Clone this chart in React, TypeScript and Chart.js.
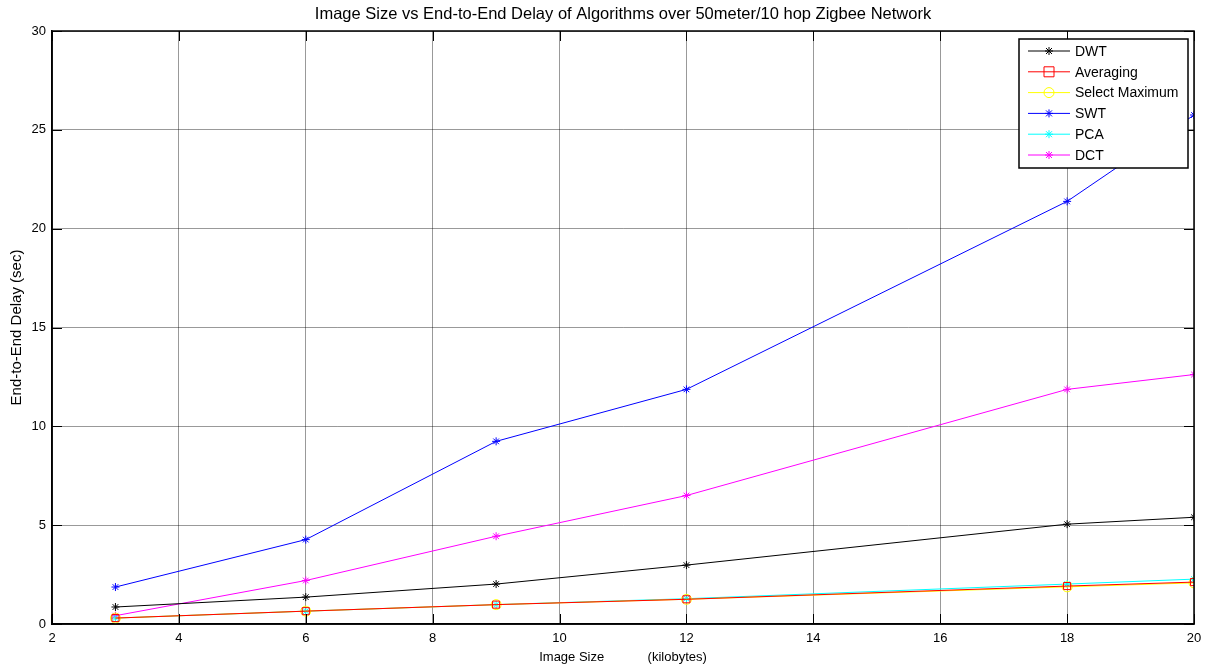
import React, { useEffect, useRef } from "react";
import { Chart, registerables } from "chart.js";

Chart.register(...registerables);

const imageSizes = [3, 6, 9, 12, 18, 20];
const dwt = [0.86, 1.36, 2.02, 2.98, 5.05, 5.4];
const averaging = [0.3, 0.65, 0.98, 1.25, 1.92, 2.12];
const selectMaximum = [0.3, 0.65, 0.98, 1.25, 1.88, 2.08];
const swt = [1.87, 4.27, 9.24, 11.87, 21.38, 25.75];
const pca = [0.3, 0.65, 0.98, 1.28, 2.02, 2.27];
const dct = [0.42, 2.2, 4.44, 6.5, 11.87, 12.62];
const xTicks = [2, 4, 6, 8, 10, 12, 14, 16, 18, 20];
const yTicks = [0, 5, 10, 15, 20, 25, 30];

const FONT = "'Liberation Sans', Arial, sans-serif";

const seriesDefs = [
  { label: "DWT", data: dwt, color: "#000000", style: "star" },
  { label: "Averaging", data: averaging, color: "#ff0000", style: "rect" },
  { label: "Select Maximum", data: selectMaximum, color: "#ffff00", style: "circle" },
  { label: "SWT", data: swt, color: "#0000ff", style: "star" },
  { label: "PCA", data: pca, color: "#00ffff", style: "star" },
  { label: "DCT", data: dct, color: "#ff00ff", style: "star" },
];

function drawMarker(ctx: CanvasRenderingContext2D, style: string, x: number, y: number, color: string) {
  ctx.save();
  ctx.strokeStyle = color;
  ctx.lineWidth = 1;
  ctx.beginPath();
  if (style === "star") {
    const r = 4;
    ctx.moveTo(x - r, y); ctx.lineTo(x + r, y);
    ctx.moveTo(x, y - r); ctx.lineTo(x, y + r);
    const d = r * 0.75;
    ctx.moveTo(x - d, y - d); ctx.lineTo(x + d, y + d);
    ctx.moveTo(x - d, y + d); ctx.lineTo(x + d, y - d);
  } else if (style === "rect") {
    ctx.rect(x - 5, y - 5, 10, 10);
  } else {
    ctx.arc(x, y, 5, 0, Math.PI * 2);
  }
  ctx.stroke();
  ctx.restore();
}

const framePlugin = {
  id: "framePlugin",
  afterDatasetsDraw(chart: any) {
    const { ctx, chartArea } = chart;
    const { left, right, top, bottom } = chartArea;
    ctx.save();
    ctx.strokeStyle = "#000";
    ctx.lineWidth = 1;
    const xs = chart.scales.x;
    const ys = chart.scales.y;
    ctx.beginPath();
    xTicks.forEach((t) => {
      const px = Math.round(xs.getPixelForValue(t)) + 0.5;
      ctx.moveTo(px, bottom); ctx.lineTo(px, bottom - 10);
      ctx.moveTo(px, top); ctx.lineTo(px, top + 10);
    });
    yTicks.forEach((t) => {
      const py = Math.round(ys.getPixelForValue(t)) + 0.5;
      ctx.moveTo(left, py); ctx.lineTo(left + 10, py);
      ctx.moveTo(right, py); ctx.lineTo(right - 10, py);
    });
    ctx.stroke();
    ctx.lineWidth = 1.5;
    ctx.strokeRect(left, top, right - left, bottom - top);
    ctx.fillStyle = "#000";
    ctx.font = `16.5px ${FONT}`;
    ctx.textAlign = "center";
    ctx.textBaseline = "middle";
    ctx.fillText(
      "Image Size vs End-to-End Delay of Algorithms over 50meter/10 hop Zigbee Network",
      (left + right) / 2,
      14
    );
    const lx = 1019, ly = 39, lw = 169, lh = 129;
    ctx.fillStyle = "#fff";
    ctx.fillRect(lx, ly, lw, lh);
    ctx.strokeStyle = "#000";
    ctx.lineWidth = 1.5;
    ctx.strokeRect(lx, ly, lw, lh);
    ctx.font = `14px ${FONT}`;
    ctx.textAlign = "left";
    seriesDefs.forEach((s, i) => {
      const y = 51 + i * 20.8;
      ctx.strokeStyle = s.color;
      ctx.lineWidth = 1;
      ctx.beginPath();
      ctx.moveTo(1028, y); ctx.lineTo(1070, y);
      ctx.stroke();
      drawMarker(ctx, s.style, 1049, y, s.color);
      ctx.fillStyle = "#000";
      ctx.fillText(s.label, 1075, y + 1);
    });
    ctx.restore();
  },
};

export default function App() {
  const ref = useRef<HTMLCanvasElement>(null);
  useEffect(() => {
    document.body.style.margin = "0";
    const canvas = ref.current!;
    const chart = new Chart(canvas, {
      type: "line",
      data: {
        datasets: seriesDefs.map((s) => ({
          label: s.label,
          data: imageSizes.map((x, i) => ({ x, y: s.data[i] })),
          borderColor: s.color,
          backgroundColor: "rgba(0,0,0,0)",
          borderWidth: 1,
          pointStyle: s.style === "rect" ? "rect" : s.style === "circle" ? "circle" : "star",
          pointRadius: s.style === "star" ? 4 : 5,
          pointBorderColor: s.color,
          pointBackgroundColor: "rgba(0,0,0,0)",
          pointBorderWidth: 1,
          tension: 0,
          fill: false,
        })),
      },
      options: {
        responsive: false,
        animation: false,
        layout: { padding: { left: 0, right: 18, top: 31, bottom: 0 } },
        plugins: { legend: { display: false }, title: { display: false }, tooltip: { enabled: false } },
        scales: {
          x: {
            type: "linear",
            min: 2,
            max: 20,
            afterFit: (s: any) => { s.height = 47; },
            afterBuildTicks: (s: any) => { s.ticks = xTicks.map((v) => ({ value: v })); },
            ticks: { color: "#000", font: { family: FONT, size: 13 }, padding: 7, maxRotation: 0 },
            grid: { color: "rgba(0,0,0,0.4)", lineWidth: 1, drawTicks: false },
            border: { display: true, color: "#000", width: 1.5 },
            title: {
              display: true,
              text: "Image Size            (kilobytes)",
              color: "#000",
              font: { family: FONT, size: 13 },
              padding: { top: 0, bottom: 6 },
            },
          },
          y: {
            type: "linear",
            min: 0,
            max: 30,
            afterFit: (s: any) => { s.width = 52; },
            afterBuildTicks: (s: any) => { s.ticks = yTicks.map((v) => ({ value: v })); },
            ticks: { color: "#000", font: { family: FONT, size: 13 }, padding: 6 },
            grid: { color: "rgba(0,0,0,0.4)", lineWidth: 1, drawTicks: false },
            border: { display: true, color: "#000", width: 1.5 },
            title: {
              display: true,
              text: "End-to-End Delay (sec)",
              color: "#000",
              font: { family: FONT, size: 15 },
              padding: { top: 8, bottom: 0 },
            },
          },
        },
      },
      plugins: [framePlugin],
    } as any);
    return () => chart.destroy();
  }, []);
  return <canvas ref={ref} width={1212} height={671} style={{ display: "block" }} />;
}
